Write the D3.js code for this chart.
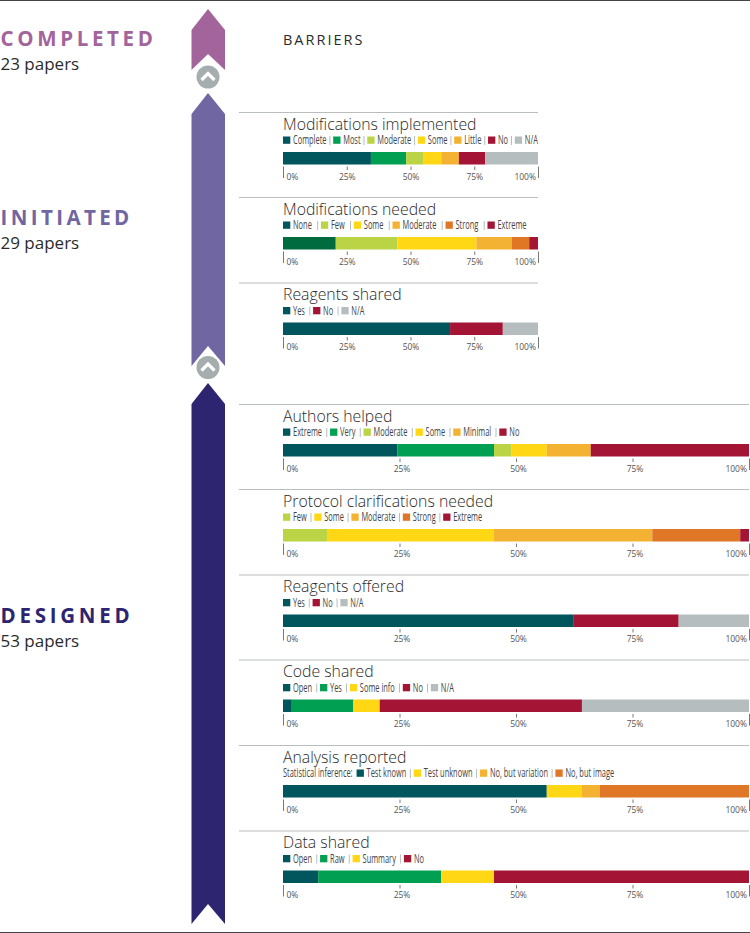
<!DOCTYPE html>
<html>
<head>
<meta charset="utf-8">
<script src="https://cdn.jsdelivr.net/npm/d3@7"></script>
<style>
  html, body { margin: 0; padding: 0; background: #fff; }
  svg { display: block; }
  text { fill: #2b2b2b; }
</style>
</head>
<body>
<div id="chart"></div>
<script>
//---------------- chart values: number of papers per answer ----------------//
var stageNames = ['COMPLETED', 'INITIATED', 'DESIGNED'];
var stagePapers = [23, 29, 53];
var panelTitles = ['Modifications implemented', 'Modifications needed', 'Reagents shared',
                   'Authors helped', 'Protocol clarifications needed', 'Reagents offered',
                   'Code shared', 'Analysis reported', 'Data shared'];
var panelTotals = [29, 29, 29, 53, 53, 53, 53, 53, 53];

var modImplementedKeys = ['Complete', 'Most', 'Moderate', 'Some', 'Little', 'No', 'N/A'];
var modImplementedValues = [10, 4, 2, 2, 2, 3, 6];
var modNeededKeys = ['None', 'Few', 'Some', 'Moderate', 'Strong', 'Extreme'];
var modNeededValues = [6, 7, 9, 4, 2, 1];
var reagentsSharedKeys = ['Yes', 'No', 'N/A'];
var reagentsSharedValues = [19, 6, 4];
var authorsKeys = ['Extreme', 'Very', 'Moderate', 'Some', 'Minimal', 'No'];
var authorsValues = [13, 11, 2, 4, 5, 18];
var protocolKeys = ['Few', 'Some', 'Moderate', 'Strong', 'Extreme'];
var protocolValues = [5, 19, 18, 10, 1];
var reagentsOfferedKeys = ['Yes', 'No', 'N/A'];
var reagentsOfferedValues = [33, 12, 8];
var codeKeys = ['Open', 'Yes', 'Some info', 'No', 'N/A'];
var codeValues = [1, 7, 3, 23, 19];
var analysisKeys = ['Test known', 'Test unknown', 'No, but variation', 'No, but image'];
var analysisValues = [30, 4, 2, 17];
var dataKeys = ['Open', 'Raw', 'Summary', 'No'];
var dataValues = [4, 14, 6, 29];

var tickPercents = [0, 25, 50, 75, 100];
//---------------------------------------------------------------------------//

//---------------- colours ----------------//
var teal = '#00565c', green = '#009f52', lime = '#bad445', yellow = '#ffd714',
    amber = '#f4b233', orange = '#e07727', crimson = '#a41535', grey = '#b5bdbe';
var modImplementedColors = [teal, green, lime, yellow, amber, crimson, grey];
var modNeededColors = ['#006b3f', lime, yellow, amber, orange, crimson];
var modNeededSwatches = [teal, lime, yellow, amber, orange, crimson];
var sharedColors = [teal, crimson, grey];
var authorsColors = [teal, green, lime, yellow, amber, crimson];
var protocolColors = [lime, yellow, amber, orange, crimson];
var codeColors = [teal, green, yellow, crimson, grey];
var analysisColors = [teal, yellow, amber, orange];
var dataColors = [teal, green, yellow, crimson];
var stageColors = ['#a3649c', '#7066a1', '#2e2570'];

//---------------- svg element ----------------//
var width = 750, height = 933;
var svg = d3.select('#chart').append('svg')
            .attr('width', width)
            .attr('height', height);

var bodyFont = '"Open Sans", sans-serif';

// frame lines
svg.append('rect').attr('x', 0).attr('y', 0).attr('width', width).attr('height', 1).attr('fill', '#444');
svg.append('rect').attr('x', 0).attr('y', 932).attr('width', width).attr('height', 1).attr('fill', '#444');

//---------------- stage arrows ----------------//
var arrowLeft = 191.5, arrowRight = 225, arrowMid = 208;
var arrowTops = [9, 93, 383];
var arrowBottoms = [70, 366, 924];
var arrowHead = 21;
var arrowNotches = [16, 20, 20];
var labelBase = [46, 225, 623];
var stageSpacing = [3.65, 3.4, 3.75];
var line = d3.line();

stageNames.forEach(function(name, i){
  var t = arrowTops[i], b = arrowBottoms[i];
  svg.append('path')
     .attr('d', line([[arrowMid, t], [arrowRight, t + arrowHead], [arrowRight, b],
                      [arrowMid, b - arrowNotches[i]], [arrowLeft, b], [arrowLeft, t + arrowHead]]) + 'Z')
     .attr('fill', stageColors[i]);

  svg.append('text')
     .attr('x', 0.5).attr('y', labelBase[i])
     .style('font-family', bodyFont).style('font-weight', 700)
     .style('font-size', '20.5px').style('letter-spacing', stageSpacing[i] + 'px')
     .style('fill', stageColors[i])
     .text(name);

  svg.append('text')
     .attr('x', 0.5).attr('y', labelBase[i] + 23.5)
     .style('font-family', bodyFont).style('font-weight', 400)
     .style('font-size', '17px')
     .text(stagePapers[i] + ' papers');
});

// chevron buttons between the stages
[77, 367.5].forEach(function(cy){
  svg.append('circle').attr('cx', arrowMid).attr('cy', cy).attr('r', 11.5).attr('fill', '#a5adaf');
  svg.append('path')
     .attr('d', line([[arrowMid - 6.5, cy + 3], [arrowMid, cy - 3.5], [arrowMid + 6.5, cy + 3]]))
     .attr('fill', 'none').attr('stroke', '#fff').attr('stroke-width', 3.2);
});

svg.append('text')
   .attr('x', 283).attr('y', 45)
   .style('font-family', bodyFont).style('font-size', '14.5px').style('letter-spacing', '2px')
   .text('BARRIERS');

//---------------- panels ----------------//
var panelTops = [112.5, 197.5, 283, 404.5, 489.5, 575, 660, 745.5, 831];
var panelRights = [538, 538, 538, 749, 749, 749, 749, 749, 749];
var panelKeys = [modImplementedKeys, modNeededKeys, reagentsSharedKeys, authorsKeys, protocolKeys,
                 reagentsOfferedKeys, codeKeys, analysisKeys, dataKeys];
var panelValues = [modImplementedValues, modNeededValues, reagentsSharedValues, authorsValues, protocolValues,
                   reagentsOfferedValues, codeValues, analysisValues, dataValues];
var panelColors = [modImplementedColors, modNeededColors, sharedColors, authorsColors, protocolColors,
                   sharedColors, codeColors, analysisColors, dataColors];
var panelSwatches = [modImplementedColors, modNeededSwatches, sharedColors, authorsColors, protocolColors,
                     sharedColors, codeColors, analysisColors, dataColors];
var panelPrefix = ['', '', '', '', '', '', '', 'Statistical inference:', ''];
var panelGaps = [3.4, 5.8, 4.9, 4.8, 4.2, 4.4, 4.65, 4.1, 4.7]; // legend text to divider

// legend text is condensed in the original, no narrow face here so squeeze it
var squeeze = 0.62;
function legendText(g, x, str){
  var t = g.append('text').attr('x', x).attr('y', 31.5)
    .style('font-family', bodyFont).style('font-size', '12px').style('fill', '#444')
    .text(str);
  var w = t.node().getComputedTextLength() * squeeze;
  t.attr('textLength', w).attr('lengthAdjust', 'spacingAndGlyphs');
  return w;
}

panelTitles.forEach(function(title, p){
  var g = svg.append('g').attr('transform', 'translate(0,' + panelTops[p] + ')');
  var left = 283, right = panelRights[p];
  var wide = right > 600;

  g.append('line').attr('x1', 239).attr('x2', right).attr('y1', 0).attr('y2', 0)
   .attr('stroke', '#b9bdbe').attr('stroke-width', 1);

  g.append('text').attr('x', left).attr('y', 17)
   .style('font-family', bodyFont).style('font-weight', 300).style('font-size', '15.8px')
   .text(title);

  //------- legend: each entry is placed after the one before it -------//
  var cursor = left;
  if (panelPrefix[p]) {
    cursor += legendText(g, cursor, panelPrefix[p]) + 4;
  }
  panelKeys[p].forEach(function(key, k){
    g.append('rect').attr('x', cursor).attr('y', 24).attr('width', 7.3).attr('height', 7.3)
     .attr('fill', panelSwatches[p][k]);
    cursor += 10 + legendText(g, cursor + 10, key) + panelGaps[p];
    if (k < panelKeys[p].length - 1) {
      g.append('line').attr('x1', cursor).attr('x2', cursor).attr('y1', 23.5).attr('y2', 32.5)
       .attr('stroke', '#9a9fa0').attr('stroke-width', 0.7);
      cursor += 3.3;
    }
  });

  //------- stacked bar -------//
  var x = d3.scaleLinear().domain([0, panelTotals[p]]).range([left, right]);
  var running = 0;
  var stacks = panelValues[p].map(function(v, i){
    var s = {x0: running, x1: running + v, color: panelColors[p][i]};
    running += v;
    return s;
  });
  g.selectAll('.seg').data(stacks).enter().append('rect')
   .attr('class', 'seg')
   .attr('x', function(d){ return x(d.x0); })
   .attr('width', function(d){ return x(d.x1) - x(d.x0); })
   .attr('y', 39.5).attr('height', 12.5)
   .attr('fill', function(d){ return d.color; });

  //------- percent axis -------//
  var pct = d3.scaleLinear().domain([0, 100]).range([left, right]);
  var axis = d3.axisBottom(pct).tickValues(tickPercents)
               .tickSize(3.5).tickPadding(1)
               .tickFormat(function(d){ return d + '%'; });
  var ax = g.append('g').attr('transform', 'translate(0,54)').call(axis);
  ax.select('.domain').remove();
  ax.selectAll('line').attr('stroke', '#555').attr('stroke-width', 0.8);
  ax.selectAll('text')
    .style('font-family', bodyFont).style('font-size', '8.5px').style('fill', '#555')
    .attr('x', wide ? 2 : 0)
    .attr('y', 7).attr('dy', '0.71em');
  ax.selectAll('.tick').filter(function(d){ return d === 0 || d === 100; }).each(function(d){
    d3.select(this).select('line').attr('y2', 11.5);
    d3.select(this).select('text')
      .attr('text-anchor', d === 0 ? 'start' : 'end')
      .attr('x', d === 0 ? 3 : -2.5);
  });
});
</script>
</body>
</html>
